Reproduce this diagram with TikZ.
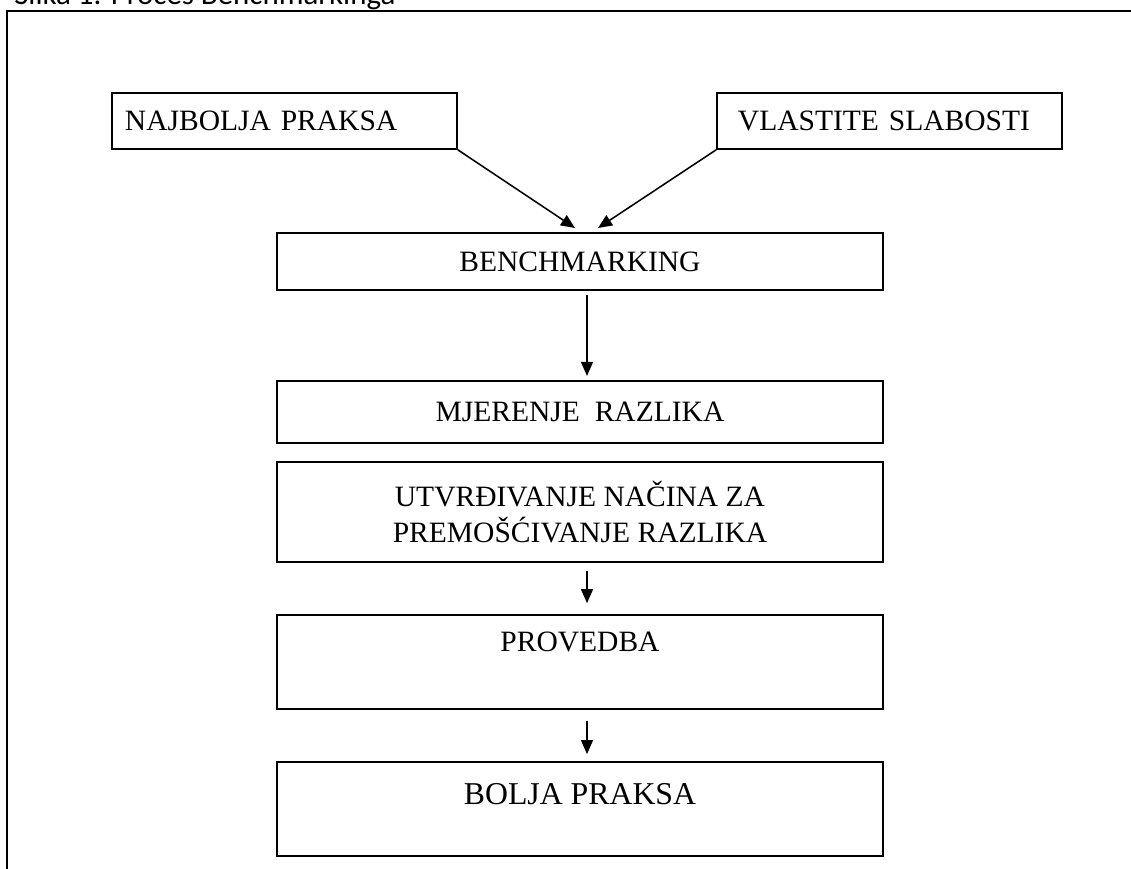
\documentclass[tikz,border=0pt]{standalone}
\usepackage{fontspec}
\setmainfont{Liberation Serif}
\newfontfamily\capfont{Carlito}
\usetikzlibrary{arrows.meta,positioning}

\begin{document}
\begin{tikzpicture}[x=0.025cm, y=-0.025cm,
        kasten/.style={draw, line width=1.2pt, minimum width=15.15cm, align=center, inner sep=0pt, font=\fontsize{21}{25.5}\selectfont},
        quelle/.style={draw, line width=1.2pt, minimum height=1.4cm, align=left, font=\fontsize{21}{25.5}\selectfont},
        pfeil/.style={-{Triangle[length=10pt,width=8.5pt]}, line width=1.1pt}]
        \clip (0, 0) rectangle (1131, 868);

        % Rahmen
        \draw[line width=1.4pt] (7, 11) rectangle (1145, 885);
        \node[anchor=base west, inner sep=0pt, font=\capfont\fontsize{22}{26}\selectfont] (titel) at (14, 5) {Slika 1. Proces Benchmarkinga};

        % Kästen
        \node[quelle, inner xsep=0.325cm, text width=7.975cm] (najbolja) at (284.5, 121) {NAJBOLJA PRAKSA};
        \node[quelle, inner xsep=0.525cm, text width=7.575cm] (vlastite) at (889.5, 121) {VLASTITE SLABOSTI};
        \node[kasten, minimum height=1.425cm] (bench) at (580, 261.5) {BENCHMARKING};
        \node[kasten, minimum height=1.55cm] (mjerenje) at (580, 412) {MJERENJE\ \ RAZLIKA};
        \node[kasten, minimum height=2.5cm] (utvrdivanje) at (580, 512) {UTVRĐIVANJE NAČINA ZA\\PREMOŠĆIVANJE RAZLIKA};
        \node[kasten, minimum height=2.35cm] (provedba) at (580, 662) {PROVEDBA\\[-4pt]\strut};
        \node[kasten, minimum height=2.35cm, font=\fontsize{22.6}{27.5}\selectfont] (bolja) at (580, 809) {BOLJA PRAKSA\\[-14pt]\strut};

        % Verbindungen
        \coordinate (ziel1) at (575, 228);
        \coordinate (ziel2) at (598, 228);
        \coordinate (achse) at (587, 0);
        \draw[pfeil] (najbolja.south east) -- (ziel1);
        \draw[pfeil] (vlastite.south west) -- (ziel2);
        \draw[pfeil, shorten <=2.8pt, shorten >=3pt] (bench.south -| achse) -- (mjerenje.north -| achse);
        \draw[pfeil, shorten <=5.7pt, shorten >=7.8pt] (utvrdivanje.south -| achse) -- (provedba.north -| achse);
        \draw[pfeil, shorten <=7.8pt, shorten >=5pt] (provedba.south -| achse) -- (bolja.north -| achse);

\end{tikzpicture}
\end{document}
